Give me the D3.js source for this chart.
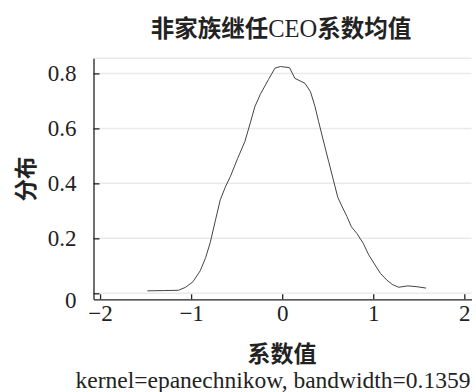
<!DOCTYPE html>
<html>
<head>
<meta charset="utf-8">
<script src="https://cdn.jsdelivr.net/npm/d3@7/dist/d3.min.js"></script>
<style>
  body { margin: 0; background: #fff; }
  svg { display: block; }
  text { font-family: "Liberation Serif", "Noto Sans CJK SC", serif; fill: #222; }
</style>
</head>
<body>
<svg width="476" height="392"></svg>
<script>
// density estimate
const xs = [-1.48, -1.30, -1.14, -1.06, -0.98, -0.90, -0.84, -0.79, -0.73, -0.68, -0.62, -0.57,
  -0.49, -0.41, -0.35, -0.30, -0.24, -0.15, -0.08, -0.02, 0.08, 0.14, 0.25, 0.31, 0.36, 0.40,
  0.45, 0.51, 0.56, 0.61, 0.65, 0.71, 0.76, 0.82, 0.89, 0.95, 1.02, 1.08, 1.15, 1.21, 1.28,
  1.38, 1.48, 1.58];
const ys = [0.009, 0.010, 0.011, 0.022, 0.042, 0.082, 0.13, 0.185, 0.27, 0.34, 0.39, 0.424,
  0.49, 0.552, 0.62, 0.679, 0.724, 0.778, 0.819, 0.825, 0.821, 0.782, 0.764, 0.734, 0.68, 0.625,
  0.558, 0.48, 0.415, 0.35, 0.321, 0.28, 0.242, 0.218, 0.182, 0.14, 0.103, 0.072, 0.048, 0.032, 0.022,
  0.027, 0.024, 0.019];
const xTicks = [-2, -1, 0, 1, 2];
const yTicks = [0, 0.2, 0.4, 0.6, 0.8];

const svg = d3.select("svg");

// scales (plot region runs a little past the tick range, Stata style)
const x = d3.scaleLinear().domain([-2.072, 2.079]).range([93.5, 471.5]);
const y = d3.scaleLinear().domain([-0.0218, 0.855]).range([299.3, 58.3]);

// gridlines
const grid = svg.append("g");
grid.selectAll("line")
  .data(yTicks.concat([0.855]))
  .enter().append("line")
  .attr("x1", x.range()[0]).attr("x2", x.range()[1])
  .attr("y1", d => y(d)).attr("y2", d => y(d))
  .attr("stroke", "#eaeaea")
  .attr("stroke-width", 1.5);

// density curve
const pts = xs.map((v, i) => [v, ys[i]]);
svg.append("path")
  .datum(pts)
  .attr("fill", "none")
  .attr("stroke", "#444")
  .attr("stroke-width", 1)
  .attr("d", d3.line().x(d => x(d[0])).y(d => y(d[1])));

// axes
const yAxis = svg.append("g")
  .attr("transform", `translate(${x.range()[0]},0)`)
  .call(d3.axisLeft(y).tickValues(yTicks).tickSizeInner(-6).tickSizeOuter(0).tickPadding(17)
    .tickFormat(d3.format("~g")));
yAxis.select(".domain").attr("stroke", "#222").attr("stroke-width", 1.3);
yAxis.selectAll(".tick line").attr("stroke", "#222").attr("stroke-width", 1.3);
yAxis.selectAll(".tick text")
  .style("font-family", "Liberation Serif")
  .style("font-size", "23px")
  .attr("fill", "#222")
  .filter(d => d === 0).attr("dy", "0.6em");

const xAxis = svg.append("g")
  .attr("transform", `translate(0,${y.range()[0]})`)
  .call(d3.axisBottom(x).tickValues(xTicks).tickSizeInner(-5).tickSizeOuter(0).tickPadding(5)
    .tickFormat(d3.format("~g")));
xAxis.select(".domain").attr("stroke", "#222").attr("stroke-width", 1.3);
xAxis.selectAll(".tick line").attr("stroke", "#222").attr("stroke-width", 1.3);
xAxis.selectAll(".tick text")
  .style("font-family", "Liberation Serif")
  .style("font-size", "23px")
  .attr("fill", "#222");

// title
const title = svg.append("text")
  .attr("x", 281).attr("y", 37)
  .attr("text-anchor", "middle")
  .style("font-size", "23.5px")
  .style("font-weight", "bold");
title.append("tspan").style("font-family", "Noto Sans CJK SC").text("非家族继任");
title.append("tspan").style("font-weight", "normal").style("font-size", "24.5px").text("CEO");
title.append("tspan").style("font-family", "Noto Sans CJK SC").text("系数均值");

// axis titles
svg.append("text")
  .attr("transform", "translate(24,179) rotate(-90)")
  .attr("text-anchor", "middle")
  .attr("dominant-baseline", "central")
  .style("font-family", "Noto Sans CJK SC")
  .style("font-size", "22.5px")
  .style("font-weight", "bold")
  .text("分布");

svg.append("text")
  .attr("x", 282).attr("y", 352)
  .attr("text-anchor", "middle")
  .attr("dominant-baseline", "central")
  .style("font-family", "Noto Sans CJK SC")
  .style("font-size", "23px")
  .style("font-weight", "bold")
  .text("系数值");

// note
svg.append("text")
  .attr("x", 273).attr("y", 388)
  .attr("text-anchor", "middle")
  .style("font-family", "Liberation Serif")
  .style("font-size", "23.5px")
  .text("kernel=epanechnikow, bandwidth=0.1359");
</script>
</body>
</html>
